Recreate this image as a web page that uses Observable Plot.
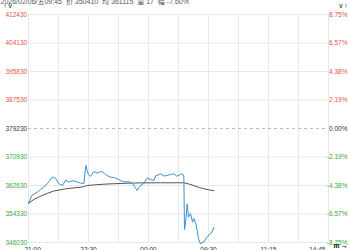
<!DOCTYPE html>
<html>
<head>
<meta charset="utf-8">
<script src="https://cdn.jsdelivr.net/npm/d3@7"></script>
<script src="https://cdn.jsdelivr.net/npm/@observablehq/plot@0.6"></script>
<style>
  html, body { margin: 0; padding: 0; background: #fff; overflow: hidden; }
</style>
</head>
<body>
<div id="chart"></div>
<script>
const header = "2026/02/06/五09:45  价 350410  均 361115  量 17  幅 -7.60%";
const prevClose = 379230;

// trading-minute index (from 21:00) and price
const priceMinutes = [0,5,13,18,23,30,36,41,45,51,56,60,65,71,75,78,83,86,88,90,93,98,103,108,111,114,118,123,129,135,141,146,150,156,159,163,166,168,173,178,183,188,191,195,198,203,208,213,218,222,225,228,231,233,234,236,238,240,243,246,248,251,253,255,258,260,263,266,268,271,273,275,278];
const prices = [357480,359720,360680,361470,362140,363600,365110,364670,363220,362640,364240,363600,363950,363890,363510,363300,363220,368460,367000,365840,365260,366710,366220,366710,366510,366130,365550,365050,364960,364380,363800,363650,363800,363220,362340,361180,362050,362640,363220,364820,364380,364090,365550,365690,366040,365400,365550,365840,366040,365400,365550,365840,366040,365400,349820,352440,357310,353400,354480,351950,353030,351480,349530,347110,345600,346040,346130,347200,347580,348370,348570,349090,350410];

const avgMinutes = [0,8,15,26,38,56,81,84,88,101,118,146,168,198,233,240,248,255,263,271,278];
const avgPrices = [357480,358560,359230,360160,361030,361670,362200,362340,362640,362840,363070,363280,363390,363420,363420,363100,362600,362100,361700,361350,361115];

const yTicks = [412430,404130,395830,387530,379230,370930,362630,354330,346030];
const xTicks = [0,90,180,270,360,450];
const xTickLabels = ["21:00","22:30","00:00","09:30","11:15","14:45"];
const gridMinutes = [0,45,90,135,180,225,270,315,360,405,450];

const red = "#e5534b", green = "#3aa83a", neutral = "#333";
const tickColor = d => d > prevClose ? red : d < prevClose ? green : neutral;
const labelOf = d => xTickLabels[xTicks.indexOf(d)];

const chart = Plot.plot({
  width: 350,
  height: 250,
  marginTop: 14,
  marginBottom: 8,
  marginLeft: 28,
  marginRight: 22,
  style: {fontSize: "6.5px", fontFamily: "'Liberation Sans', 'Noto Sans CJK SC', sans-serif", background: "#fff", overflow: "visible"},
  x: {domain: [0, 450]},
  y: {domain: [346030, 412430]},
  marks: [
    Plot.gridX(gridMinutes, {stroke: "#e8e8e8", strokeOpacity: 1}),
    Plot.gridY(yTicks.filter(d => d !== prevClose), {stroke: "#e8e8e8", strokeOpacity: 1}),
    Plot.ruleY([prevClose], {stroke: "#bbb", strokeDasharray: "3,3"}),
    Plot.axisY({anchor: "left", ticks: yTicks, tickSize: 0, tickPadding: 0, textAnchor: "start", dx: -23, fill: tickColor, tickFormat: d => String(d)}),
    Plot.axisY({anchor: "right", ticks: yTicks, tickSize: 0, tickPadding: 0, textAnchor: "end", dx: 19, fill: tickColor,
      tickFormat: d => ((d - prevClose) / prevClose * 100).toFixed(2) + "%"}),
    Plot.axisX({ticks: [xTicks[0]], tickSize: 0, tickPadding: 5, textAnchor: "start", dx: -4, fill: "#333", tickFormat: labelOf}),
    Plot.axisX({ticks: xTicks.slice(1, -1), tickSize: 0, tickPadding: 5, fill: "#333", tickFormat: labelOf}),
    Plot.axisX({ticks: [xTicks[xTicks.length - 1]], tickSize: 0, tickPadding: 5, textAnchor: "end", dx: -3, fill: "#333", tickFormat: labelOf}),
    Plot.line(avgMinutes.map((m, i) => ({m, v: avgPrices[i]})), {x: "m", y: "v", stroke: "#555", strokeWidth: 1}),
    Plot.line(priceMinutes.map((m, i) => ({m, v: prices[i]})), {x: "m", y: "v", stroke: "#3d8fd1", strokeWidth: 1}),
    Plot.text([header], {frameAnchor: "top-left", dx: -28, dy: -12.5, textAnchor: "start", lineAnchor: "middle", fill: "#555", fontSize: 7})
  ]
});
document.getElementById("chart").append(chart);
</script>
</body>
</html>
